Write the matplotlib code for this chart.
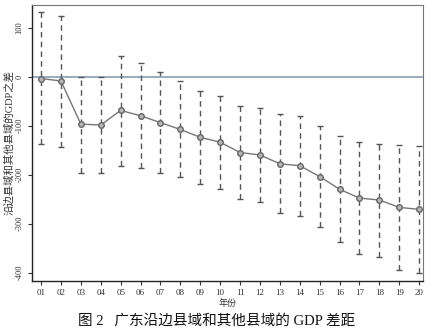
import numpy as np
import matplotlib
matplotlib.use("Agg")
import matplotlib.pyplot as plt

plt.rcParams['font.family'] = ['Liberation Serif', 'Noto Sans CJK SC', 'DejaVu Sans']

# 年份及沿边县域与其他县域GDP之差（估计值与置信区间）
years = ["01", "02", "03", "04", "05", "06", "07", "08", "09", "10",
         "11", "12", "13", "14", "15", "16", "17", "18", "19", "20"]
coef = [-4, -9, -97, -99, -69, -80, -94, -108, -124, -134,
        -155, -160, -178, -182, -204, -230, -248, -252, -267, -271]
upper = [131, 124, -1, -1, 41, 27, 9, -10, -29, -39,
         -60, -65, -76, -81, -101, -122, -134, -137, -139, -141]
lower = [-138, -143, -196, -196, -182, -186, -197, -205, -220, -229,
         -250, -256, -278, -285, -307, -338, -362, -368, -394, -400]
yticks = [100, 0, -100, -200, -300, -400]

x = np.arange(1, len(years) + 1)
coef = np.array(coef)
upper = np.array(upper)
lower = np.array(lower)

fig = plt.figure(figsize=(4.34, 3.34), dpi=100)
ax = fig.add_axes([0.073, 0.159, 0.902, 0.826])

ax.axhline(0, color='#9aabbd', linewidth=1.4, zorder=1)

# 置信区间：虚线竖线加端帽
eb = ax.errorbar(x, coef, yerr=[coef - lower, upper - coef], fmt='none',
                 ecolor='#555555', elinewidth=1.0, capsize=2.5, capthick=1.0,
                 zorder=2)
eb[2][0].set_linestyle((0, (4, 3)))

ax.plot(x, coef, color='#777777', linewidth=1.0, marker='o', markersize=4,
        markerfacecolor='#b5b5b5', markeredgecolor='#666666',
        markeredgewidth=1.0, zorder=3)

ax.set_xlim(0.53, 20.2)
ax.set_ylim(-417, 146)
ax.set_xticks(x)
ax.set_xticklabels(years, fontsize=6.5, color='#333333')
ax.set_yticks(yticks)
ax.set_yticklabels([str(v) for v in yticks], fontsize=6, rotation=90,
                   va='center', color='#333333')
ax.tick_params(axis='both', length=3, width=0.8, colors='#333333', pad=3)

for side in ['top', 'right']:
    ax.spines[side].set_color('#777777')
    ax.spines[side].set_linewidth(0.8)
for side in ['left', 'bottom']:
    ax.spines[side].set_color('#222222')
    ax.spines[side].set_linewidth(1.0)

ax.set_xlabel("年份", fontsize=6.5, color='#333333', labelpad=1)
ax.set_ylabel("沿边县域和其他县域的GDP之差", fontsize=7.5, color='#333333',
              labelpad=1)

fig.text(0.5, 0.04, "图 2   广东沿边县域和其他县域的 GDP 差距", ha='center',
         va='center', fontsize=10.5, color='#111111')

fig.savefig("out.png", dpi=100)
